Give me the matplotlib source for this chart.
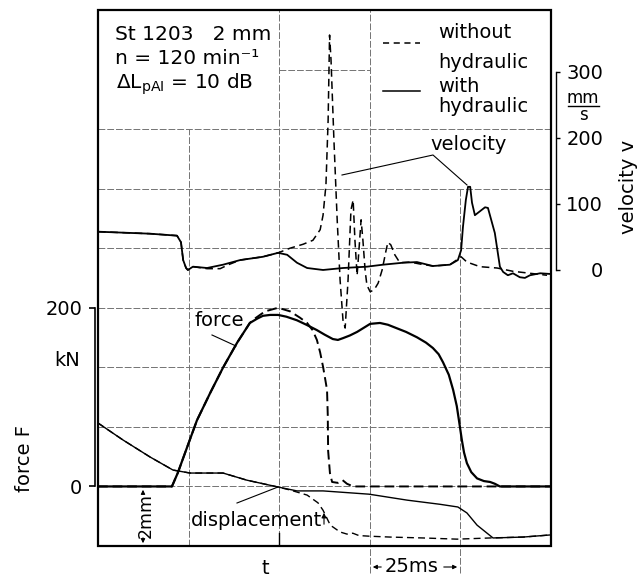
import matplotlib
matplotlib.use('Agg')
import matplotlib.pyplot as plt
from matplotlib.patches import Rectangle

W, H = 637, 579
plt.rcParams['font.family'] = ['DejaVu Sans']
plt.rcParams['mathtext.fontset'] = 'dejavusans'

# ---------------- data (time in ms) ----------------
t_force_with = [0, 20.4, 22.0, 24.6, 27.3, 31.0, 34.5, 38.4, 41.9, 44.0, 45.5, 47.5, 49.7, 52.0,
                54.9, 57.5, 60.4, 62.5, 64.8, 66.2, 67.6, 69.5, 71.5, 73.5, 75.1, 77.8, 80.0,
                82.5, 85.0, 88.0, 90.5, 92.4, 94.0, 95.2, 96.8, 98.0, 99.0, 99.6, 100.4, 101.0,
                101.8, 103.0, 104.6, 106.5, 108.2, 109.5, 110.9, 125]
force_with = [0, 0, 15, 44, 74, 105, 133, 161, 183, 188, 191, 192, 192, 190,
              186, 181, 175, 170, 165, 164, 166, 169, 173, 178, 182, 183, 181,
              177, 173, 167, 161, 155, 148, 139, 125, 108, 90, 74, 52, 38,
              26, 16, 9, 6, 5, 3, 0, 0]

t_force_without = [0, 20.4, 22.0, 24.6, 27.3, 31.0, 34.5, 38.4, 41.9, 43.3, 46.1, 49.7, 53.0,
                   55.7, 57.7, 59.2, 60.4, 61.3, 62.1, 62.7, 63.2, 63.4, 63.5, 64.0, 64.6,
                   66.2, 67.5, 68.7, 70.4, 125]
force_without = [0, 0, 15, 44, 74, 105, 133, 161, 183, 188, 196, 200, 196,
                 189, 183, 175, 164, 150, 134, 120, 108, 80, 40, 15, 5,
                 4, 7, 3, 0, 0]

t_vel_with = [0, 14.3, 21.8, 22.9, 23.5, 24.3, 24.8, 26.2, 30.1, 34.5, 39.2, 45.5, 49.7, 52.2,
              54.9, 57.7, 62.1, 67.6, 74.2, 78.6, 84.2, 88.0, 92.4, 97.1, 99.3, 100.2, 100.7,
              101.5, 102.1, 102.7, 103.2, 104.0, 106.8, 107.6, 109.5, 110.9, 111.8, 113.1,
              114.5, 116.4, 117.8, 119.2, 122.0, 124.7]
vel_with = [58, 55, 52, 42, 15, 3, 0, 5, 3, 8, 15, 20, 26, 23,
            11, 3, 0, 3, 5, 8, 11, 12, 6, 8, 15, 30, 65,
            106, 126, 126, 102, 83, 95, 94, 56, 5, -3, -8,
            -5, -11, -12, -8, -5, -6]

t_vel_without = [0, 14.3, 21.8, 22.9, 23.5, 24.3, 24.8, 26.2, 30.1, 33.7, 36.0, 39.2, 45.5, 49.7,
                 53.0, 56.6, 59.3, 61.3, 62.1, 62.9, 63.5, 63.9, 64.3, 65.1, 66.0, 66.8, 67.6,
                 68.2, 69.0, 69.8, 70.4, 70.9, 71.5, 72.0, 72.6, 73.1, 73.7, 74.2, 75.1, 76.2,
                 77.3, 78.4, 79.5, 80.0, 80.8, 81.9, 83.3, 86.1, 88.9, 92.4, 97.1, 100.2, 101.8,
                 105.4, 110.1, 114.5, 119.2, 123.9]
vel_without = [58, 55, 52, 42, 15, 3, 0, 5, 2, 2, 8, 15, 20, 26,
               33, 39, 45, 61, 83, 129, 227, 356, 318, 197, 76, -15, -76,
               -88, -15, 91, 106, 45, -8, 30, 76, 45, 0, -23, -33, -30,
               -20, 0, 30, 42, 38, 23, 11, 12, 9, 6, 8, 20, 12,
               5, 3, -2, -5, -8]

t_disp_with = [0, 6.9, 14.35, 20.7, 25.4, 34.5, 41.1, 49.7, 54.9, 62.1, 74.8, 85.3, 94.4, 99.3,
               101.8, 104.6, 109.0, 117.3, 124.7]
disp_with = [2.13, 1.56, 0.99, 0.55, 0.45, 0.45, 0.21, -0.02, -0.15, -0.15, -0.26, -0.46, -0.60, -0.69,
             -0.89, -1.30, -1.73, -1.70, -1.63]

t_disp_without = [0, 6.9, 14.35, 20.7, 25.4, 34.5, 41.1, 49.7, 53.0, 57.7, 60.7, 62.1, 64.1, 66.8,
                  68.7, 70.3, 72.0, 74.8, 80.6, 89.7, 99.1, 108.2, 117.3, 124.7]
disp_without = [2.13, 1.56, 0.99, 0.55, 0.45, 0.45, 0.21, -0.02, -0.12, -0.29, -0.55, -0.80, -1.30, -1.53,
                -1.60, -1.57, -1.65, -1.67, -1.70, -1.73, -1.77, -1.73, -1.70, -1.63]

force_ticks = [0, 200]
vel_ticks = [0, 100, 200, 300]

# ---------------- figure ----------------
fig = plt.figure(figsize=(W / 100, H / 100), dpi=100)
L, R, T, B = 98, 551, 10, 546
ax = fig.add_axes([L / W, 1 - B / H, (R - L) / W, (B - T) / H])
ax.set_xlim(0, 125)
ax.set_ylim(-200 / 3, 1600 / 3)
axV = ax.twinx()
axV.set_ylim(-418.2, 393.9)
axD = ax.twinx()
axD.set_ylim(-2, 16)

gkw = dict(color='0.45', lw=0.7, linestyle=(0, (7, 2)), zorder=0.5)
div = 200 / 3
# vertical grid lines
ax.axvline(25, 0, 7 / 9, **gkw)
ax.axvline(50, 0, 1, **gkw)
ax.axvline(75, 0, 1, **gkw)
ax.axvline(100, 0, 6 / 9, **gkw)
for tt in (75, 100):
    ax.axvline(tt, -0.05, 0, clip_on=False, **gkw)
# horizontal grid lines
ax.axhline(-div + 8 * div, 0.4, 0.6, **gkw)
for k in range(1, 8):
    ax.axhline(-div + k * div, 0, 1, **gkw)
# small tick at t-mark
ax.axvline(50, 0, 0.025, color='k', lw=1.0)

# frame
ax.add_patch(Rectangle((0, 0), 1, 1, transform=ax.transAxes, fill=False,
                       lw=1.6, ec='k', clip_on=False, zorder=3))

# force axis (left bracket)
for s in ('top', 'right', 'bottom'):
    ax.spines[s].set_visible(False)
ax.spines['left'].set_position(('outward', 2.2))
ax.spines['left'].set_bounds(0, 200)
ax.spines['left'].set_linewidth(1.2)
ax.set_xticks([])
ax.set_yticks(force_ticks)
ax.tick_params(axis='y', direction='out', length=4.3, width=1.2, labelsize=14, pad=5)

# velocity axis (right bracket)
for s in ('top', 'left', 'bottom'):
    axV.spines[s].set_visible(False)
axV.spines['right'].set_position(('outward', 3.6))
axV.spines['right'].set_bounds(0, 300)
axV.spines['right'].set_linewidth(1.0)
axV.set_yticks(vel_ticks)
axV.tick_params(axis='y', direction='out', length=3, width=1.0, labelsize=14, pad=31)
for tk in axV.yaxis.get_major_ticks():
    tk.label2.set_horizontalalignment('right')

for s in axD.spines.values():
    s.set_visible(False)
axD.set_yticks([])

# curves
ax.plot(t_force_with, force_with, color='k', lw=1.6, zorder=4)
ax.plot(t_force_without, force_without, color='k', lw=1.4, dashes=(5, 2.5), zorder=4)
axV.plot(t_vel_with, vel_with, color='k', lw=1.3, zorder=4)
axV.plot(t_vel_without, vel_without, color='k', lw=1.1, dashes=(5, 3), zorder=4)
axD.plot(t_disp_with, disp_with, color='k', lw=1.0, zorder=4)
axD.plot(t_disp_without, disp_without, color='k', lw=1.0, dashes=(5, 3), zorder=4)

# ---------------- overlay for annotations (pixel coords) ----------------
ov = fig.add_axes([0, 0, 1, 1], zorder=10)
ov.set_xlim(0, W)
ov.set_ylim(H, 0)
ov.axis('off')
ov.patch.set_alpha(0)

fs = 14
ov.text(115, 35, "St 1203   2 mm", fontsize=14.5, va='center')
ov.text(115, 59, "n = 120 min\u207b\u00b9", fontsize=14.5, va='center')
ov.text(116, 84, "\u0394L$_{\\rm pAI}$ = 10 dB", fontsize=14.5, va='center')

ov.plot([383, 420], [43, 43], color='k', lw=1.1, dashes=(4, 3))
ov.plot([383, 420], [91, 91], color='k', lw=1.1)
ov.text(438, 32, "without", fontsize=fs, va='center')
ov.text(438, 62, "hydraulic", fontsize=fs, va='center')
ov.text(438, 86, "with", fontsize=fs, va='center')
ov.text(438, 107, "hydraulic", fontsize=fs, va='center')

ov.text(583, 98, "mm", fontsize=12, ha='center', va='center')
ov.plot([568, 599], [106, 106], color='k', lw=1.0)
ov.text(583, 115, "s", fontsize=12, ha='center', va='center')
ov.text(628, 187, "velocity v", fontsize=fs, rotation=90, ha='center', va='center')
ov.text(25, 458, "force F", fontsize=fs, rotation=90, ha='center', va='center')
ov.text(67, 361, "kN", fontsize=fs, ha='center', va='center')

ov.text(469, 145, "velocity", fontsize=fs, ha='center', va='center')
ov.plot([342, 433, 467], [175, 155, 185], color='k', lw=0.8)
ov.text(219, 320, "force", fontsize=fs, ha='center', va='center')
ov.plot([212, 236], [335, 346], color='k', lw=0.8)
ov.text(256, 520, "displacement", fontsize=fs, ha='center', va='center')
ov.plot([237, 278], [503, 487], color='k', lw=0.8)
ov.annotate('', xy=(324, 510), xytext=(324, 527),
            arrowprops=dict(arrowstyle='-|>', lw=0.8, color='k', mutation_scale=7))

ov.text(146, 515, "2mm", fontsize=12.5, rotation=90, ha='center', va='center')
ov.annotate('', xy=(143, 487), xytext=(143, 497),
            arrowprops=dict(arrowstyle='-|>', lw=0.8, color='k', mutation_scale=6))
ov.annotate('', xy=(143, 546), xytext=(143, 535),
            arrowprops=dict(arrowstyle='-|>', lw=0.8, color='k', mutation_scale=6))

ov.text(265, 568, "t", fontsize=fs, ha='center', va='center')
ov.text(412, 567, "25ms", fontsize=fs, ha='center', va='center')
ov.annotate('', xy=(370, 567), xytext=(384, 567),
            arrowprops=dict(arrowstyle='-|>', lw=0.8, color='k', mutation_scale=6))
ov.annotate('', xy=(460, 567), xytext=(441, 567),
            arrowprops=dict(arrowstyle='-|>', lw=0.8, color='k', mutation_scale=6))

fig.savefig("out.png", dpi=100)
